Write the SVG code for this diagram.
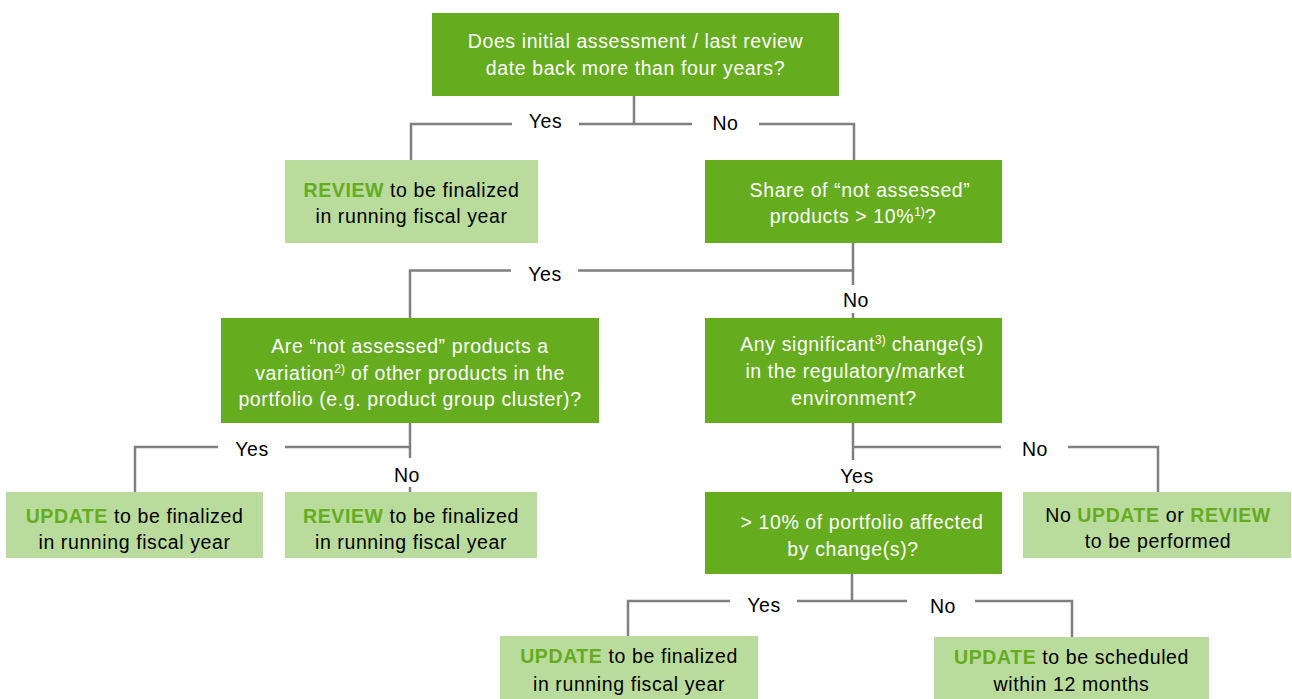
<svg xmlns="http://www.w3.org/2000/svg" width="1292" height="699" viewBox="0 0 1292 699">
<style>
text{font-family:"Liberation Sans",Arial,sans-serif;font-size:19.5px;letter-spacing:0.6px;text-anchor:middle}
.dark{fill:#65AC1E}
.light{fill:#B9DB9B}
.w{fill:#FFFFFF}
.k{fill:#000000}
.g{fill:#65AC1E;font-weight:bold}
.sup{font-size:12px;letter-spacing:0}
.conn path{fill:none;stroke:#808080;stroke-width:2.5}
</style>
<rect width="1292" height="699" fill="#FFFFFF"/>
<g class="conn" id="connectors">
<path d="M634,96 V124 M411,160 V124 H512 M579,124 H692 M759,124 H854 V160"/>
<path d="M853,243 V285 M853,313 V318 M853,270.5 H578 M511,270.5 H410 V318"/>
<path d="M410,423 V458 M410,487 V492 M410,447 H285 M218,447 H135 V492"/>
<path d="M853,423 V460 M853,489 V492 M853,447 H1001 M1068,447 H1158 V492"/>
<path d="M852,574 V601 H797 M730,601 H628 V636 M852,601 H907 M975,601 H1072 V637"/>
</g>
<g id="labels" class="k">
<text x="545.5" y="128">Yes</text>
<text x="725.5" y="129.5">No</text>
<text x="545" y="281">Yes</text>
<text x="856" y="307">No</text>
<text x="252" y="455.5">Yes</text>
<text x="407" y="481.5">No</text>
<text x="857" y="482.5">Yes</text>
<text x="1035" y="455.5">No</text>
<text x="764" y="611.5">Yes</text>
<text x="943" y="613">No</text>
</g>
<g id="n1">
<rect class="dark" x="432" y="13" width="407" height="83"/>
<text class="w" x="635.5" y="48">Does initial assessment / last review</text>
<text class="w" x="635.5" y="75">date back more than four years?</text>
</g>
<g id="n2">
<rect class="light" x="285" y="160" width="253" height="83"/>
<text class="k" x="411.5" y="196.5"><tspan class="g">REVIEW</tspan> to be finalized</text>
<text class="k" x="411.5" y="223">in running fiscal year</text>
</g>
<g id="n3">
<rect class="dark" x="705" y="160" width="297" height="83"/>
<text class="w" x="860" y="196.5">Share of “not assessed”</text>
<text class="w" x="853" y="223">products &gt; 10%<tspan class="sup" dy="-7">1)</tspan><tspan dy="7">?</tspan></text>
</g>
<g id="n4">
<rect class="dark" x="221" y="318" width="378" height="105"/>
<text class="w" x="410" y="353">Are “not assessed” products a</text>
<text class="w" x="410" y="379.5">variation<tspan class="sup" dy="-7">2)</tspan><tspan dy="7"> of other products in the</tspan></text>
<text class="w" x="410" y="405.5">portfolio (e.g. product group cluster)?</text>
</g>
<g id="n5">
<rect class="dark" x="705" y="318" width="297" height="105"/>
<text class="w" x="862" y="351">Any significant<tspan class="sup" dy="-7">3)</tspan><tspan dy="7"> change(s)</tspan></text>
<text class="w" x="855" y="378">in the regulatory/market</text>
<text class="w" x="854" y="405">environment?</text>
</g>
<g id="n6">
<rect class="light" x="6" y="492" width="257" height="66"/>
<text class="k" x="134.5" y="522.5"><tspan class="g">UPDATE</tspan> to be finalized</text>
<text class="k" x="134.5" y="548.5">in running fiscal year</text>
</g>
<g id="n7">
<rect class="light" x="285" y="492" width="252" height="66"/>
<text class="k" x="411" y="522.5"><tspan class="g">REVIEW</tspan> to be finalized</text>
<text class="k" x="411" y="548.5">in running fiscal year</text>
</g>
<g id="n8">
<rect class="dark" x="705" y="492" width="297" height="82"/>
<text class="w" x="862" y="529">&gt; 10% of portfolio affected</text>
<text class="w" x="853" y="556">by change(s)?</text>
</g>
<g id="n9">
<rect class="light" x="1023" y="492" width="268" height="66"/>
<text class="k" x="1158" y="521.7">No <tspan class="g">UPDATE</tspan> or <tspan class="g">REVIEW</tspan></text>
<text class="k" x="1158" y="547.7">to be performed</text>
</g>
<g id="n10">
<rect class="light" x="500" y="636" width="258" height="63"/>
<text class="k" x="629" y="663.3"><tspan class="g">UPDATE</tspan> to be finalized</text>
<text class="k" x="629" y="690.7">in running fiscal year</text>
</g>
<g id="n11">
<rect class="light" x="934" y="637" width="275" height="62"/>
<text class="k" x="1071.5" y="664.3"><tspan class="g">UPDATE</tspan> to be scheduled</text>
<text class="k" x="1071.5" y="690.7">within 12 months</text>
</g>
</svg>
